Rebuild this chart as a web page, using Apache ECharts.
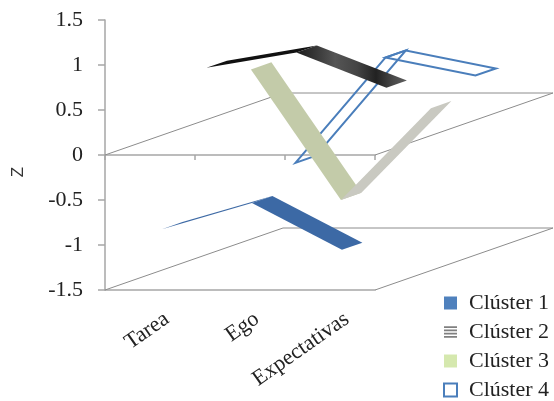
<!DOCTYPE html>
<html>
<head>
<meta charset="utf-8">
<script src="https://cdn.jsdelivr.net/npm/echarts@6/dist/echarts.min.js"></script>
<style>
  html, body { margin: 0; padding: 0; background: #fff; }
  #chart { width: 554px; height: 401px; }
</style>
</head>
<body>
<div id="chart"></div>
<script>
var categories = ['Tarea', 'Ego', 'Expectativas'];
var yTicks = [-1.5, -1, -0.5, 0, 0.5, 1, 1.5];
var planeLevels = [0, -1.5];

var cluster1 = [-0.87, -0.58, -1.1];
var cluster2 = [0.75, 0.92, 0.53];
var cluster3 = [0.56, -0.89, 0.13];
var cluster4 = [-0.65, 0.52, 0.32];

// fake 3D: depth vector in px, each cluster gets its own slot in depth
var DX = 178, DY = -62;
var slotStart = 0.067, slotStep = 0.25, slotWidth = 0.115;

var serif = 'Liberation Serif';
var axisGray = '#A6A6A6';

function segments(values) {
  var out = [];
  for (var i = 0; i < values.length - 1; i++) {
    out.push([i, values[i], values[i + 1]]);
  }
  return out;
}

function ribbon(slot, styles) {
  return function (params, api) {
    var i = api.value(0);
    var a = api.coord([i, api.value(1)]);
    var b = api.coord([i + 1, api.value(2)]);
    var d0 = slotStart + slot * slotStep;
    var d1 = d0 + slotWidth;
    var pts = [
      [a[0] + DX * d0, a[1] + DY * d0],
      [b[0] + DX * d0, b[1] + DY * d0],
      [b[0] + DX * d1, b[1] + DY * d1],
      [a[0] + DX * d1, a[1] + DY * d1]
    ];
    return { type: 'polygon', shape: { points: pts }, style: styles[params.dataIndex] };
  };
}

function planeRender(params, api) {
  var lvl = api.value(1);
  var half = api.size([1, 0])[0] / 2;
  var l = api.coord([0, lvl]);
  var r = api.coord([categories.length - 1, lvl]);
  var x0 = l[0] - half, x1 = r[0] + half, y = l[1];
  return {
    type: 'polyline',
    shape: { points: [[x0, y], [x0 + DX, y + DY], [x1 + DX, y + DY], [x1, y]] },
    style: { stroke: '#8C8C8C', lineWidth: 1, fill: null }
  };
}

var blackBand = new echarts.graphic.LinearGradient(0, 0, 1, 0, [
  { offset: 0, color: '#1c1c1c' },
  { offset: 0.15, color: '#333' },
  { offset: 0.35, color: '#555' },
  { offset: 0.55, color: '#444' },
  { offset: 0.72, color: '#222' },
  { offset: 0.88, color: '#4a4a4a' },
  { offset: 1, color: '#5e5e5e' }
]);

var blue4 = { fill: null, stroke: '#4A7EBB', lineWidth: 2 };

var chart = echarts.init(document.getElementById('chart'));
chart.setOption({
  animation: false,
  grid: [
    { left: 105, right: 179, top: 20, bottom: 111 },
    { left: 122, right: 162, top: 20, bottom: 111 }
  ],
  legend: {
    orient: 'vertical',
    left: 443,
    top: 292,
    padding: 0,
    height: 109,
    itemWidth: 13,
    itemHeight: 13,
    itemGap: 7,
    textStyle: { fontFamily: serif, fontSize: 22, lineHeight: 22, color: '#222', padding: [0, 0, 0, 7] },
    data: [
      { name: 'Clúster 1', icon: 'rect', itemStyle: { color: '#4F81BD' } },
      { name: 'Clúster 2', icon: 'path://M0,0H12V1.6H0Z M0,3H12V4.6H0Z M0,6H12V7.6H0Z M0,9H12V10.6H0Z', itemStyle: { color: '#808080' } },
      { name: 'Clúster 3', icon: 'rect', itemStyle: { color: '#D5E8AE' } },
      { name: 'Clúster 4', icon: 'rect', itemStyle: { color: '#fff', borderColor: '#4A7EBB', borderWidth: 2 } }
    ]
  },
  xAxis: [
    {
      type: 'category', gridIndex: 0, data: categories, boundaryGap: true,
      axisLine: { onZero: true, lineStyle: { color: axisGray, width: 1.5 } },
      axisTick: { show: true, length: 5, lineStyle: { color: axisGray, width: 1.5 } },
      axisLabel: { show: false }
    },
    {
      type: 'category', gridIndex: 0, data: categories, position: 'bottom',
      axisLine: { onZero: false, lineStyle: { color: axisGray, width: 1.5 } },
      axisTick: { show: false }, axisLabel: { show: false }
    },
    {
      type: 'category', gridIndex: 1, data: categories,
      axisLine: { show: false }, axisTick: { show: false },
      axisLabel: { rotate: 35, margin: 27, fontFamily: serif, fontSize: 22, color: '#222', interval: 0 }
    }
  ],
  yAxis: [
    {
      type: 'value', gridIndex: 0,
      min: yTicks[0], max: yTicks[yTicks.length - 1], interval: 0.5,
      splitLine: { show: false },
      axisLine: { show: true, lineStyle: { color: axisGray, width: 1.5 } },
      axisTick: { show: true, length: 7, lineStyle: { color: axisGray, width: 1.5 } },
      axisLabel: { margin: 22, fontFamily: serif, fontSize: 22, color: '#222' },
      name: 'Z', nameLocation: 'middle', nameRotate: 90, nameGap: 78,
      nameTextStyle: { fontFamily: 'Liberation Sans', fontSize: 17, color: '#333', padding: [0, 34, 0, 0] }
    },
    { type: 'value', gridIndex: 1, show: false, min: 0, max: 1 }
  ],
  series: [
    {
      type: 'custom', name: 'planes', z: 1, silent: true,
      xAxisIndex: 0, yAxisIndex: 0, encode: { x: 0, y: 1 },
      data: planeLevels.map(function (v) { return [0, v]; }),
      renderItem: planeRender
    },
    {
      type: 'custom', name: 'Clúster 4', z: 2, xAxisIndex: 0, yAxisIndex: 0,
      encode: { x: 0, y: [1, 2] }, data: segments(cluster4),
      renderItem: ribbon(3, [blue4, blue4])
    },
    {
      type: 'custom', name: 'Clúster 3', z: 3, xAxisIndex: 0, yAxisIndex: 0,
      encode: { x: 0, y: [1, 2] }, data: segments(cluster3),
      renderItem: ribbon(2, [{ fill: '#C3CBA9' }, { fill: '#C9C9C1' }])
    },
    {
      type: 'custom', name: 'Clúster 2', z: 4, xAxisIndex: 0, yAxisIndex: 0,
      encode: { x: 0, y: [1, 2] }, data: segments(cluster2),
      renderItem: ribbon(1, [{ fill: '#111' }, { fill: blackBand }])
    },
    {
      type: 'custom', name: 'Clúster 1', z: 5, xAxisIndex: 0, yAxisIndex: 0,
      encode: { x: 0, y: [1, 2] }, data: segments(cluster1),
      renderItem: ribbon(0, [{ fill: '#3E6AA5' }, { fill: '#3C69A5' }])
    }
  ]
});
</script>
</body>
</html>
